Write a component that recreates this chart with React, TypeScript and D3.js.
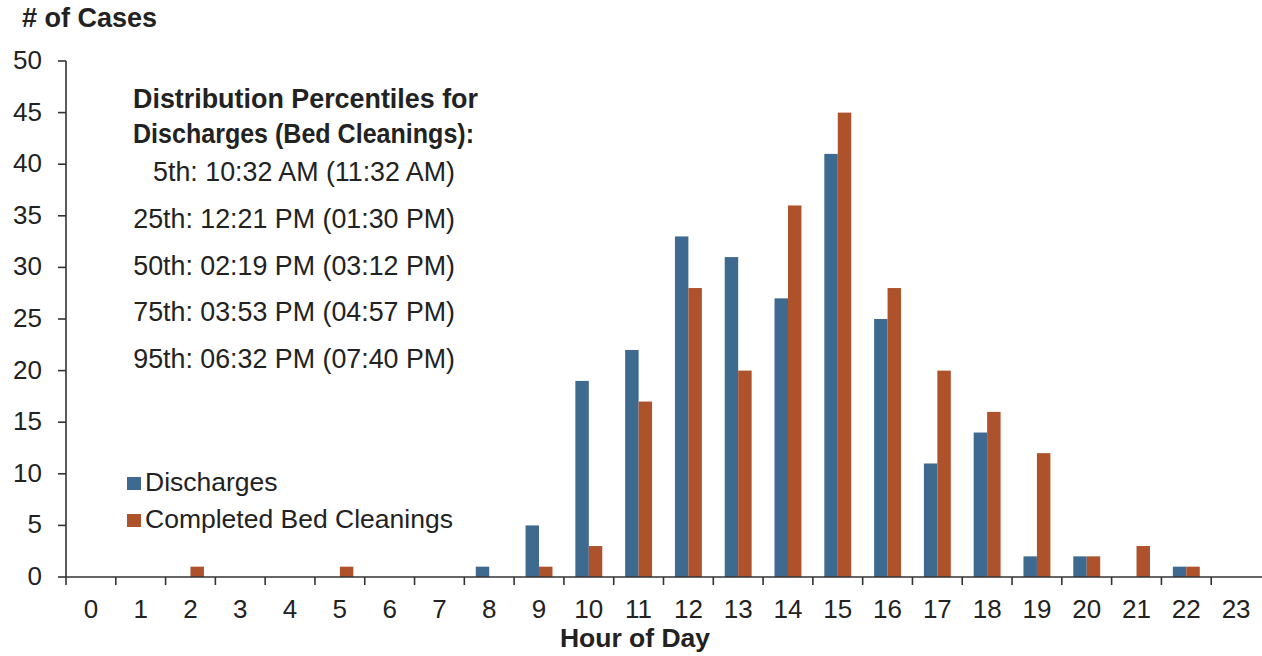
import React from "react";
import * as d3 from "d3";

const hours = ["0","1","2","3","4","5","6","7","8","9","10","11","12","13","14","15","16","17","18","19","20","21","22","23"];
const discharges = [0,0,0,0,0,0,0,0,1,5,19,22,33,31,27,41,25,11,14,2,2,0,1,0];
const cleanings = [0,0,1,0,0,1,0,0,0,1,3,17,28,20,36,45,28,20,16,12,2,3,1,0];
const yTicks = [0,5,10,15,20,25,30,35,40,45,50];
const seriesNames = ["Discharges", "Completed Bed Cleanings"];
const seriesColors = ["#3E6A8F", "#AE522C"];
const percentileTitle = ["Distribution Percentiles for", "Discharges (Bed Cleanings):"];
const percentileLines = [
  "5th: 10:32 AM (11:32 AM)",
  "25th: 12:21 PM (01:30 PM)",
  "50th: 02:19 PM (03:12 PM)",
  "75th: 03:53 PM (04:57 PM)",
  "95th: 06:32 PM (07:40 PM)",
];

export default function App() {
  const W = 1262, H = 656;
  const x0 = 66, x1 = 1261, yBase = 577, yTop = 61;
  const x = d3.scaleBand<string>().domain(hours).range([x0, x1]).padding(0);
  const inner = d3.scaleBand<string>().domain(["d", "c"]).range([0, x.bandwidth()]).paddingInner(0).paddingOuter(0.85);
  const y = d3.scaleLinear().domain([0, 50]).range([yBase, yTop]);
  const font = "'Liberation Sans', Arial, sans-serif";
  const txt = "#222";
  const axisColor = "#333";
  const series = [discharges, cleanings];
  const keys = ["d", "c"];
  const fs = 26;
  const titleLens = [345, 341];

  return (
    <svg width={W} height={H} style={{ position: "absolute", left: 0, top: 0, background: "#fff" }} fontFamily={font}>
      <rect x={0} y={0} width={W} height={H} fill="#fff" />
      <text x={22} y={27} fontSize={27} fontWeight="bold" fill={txt}>
        # of Cases
      </text>
      {/* bars */}
      {series.map((vals, si) =>
        vals.map((v, i) =>
          v > 0 ? (
            <rect
              key={`${si}-${i}`}
              x={(x(hours[i]) as number) + (inner(keys[si]) as number)}
              y={y(v)}
              width={inner.bandwidth()}
              height={yBase - y(v)}
              fill={seriesColors[si]}
            />
          ) : null
        )
      )}
      {/* y axis */}
      <line x1={x0} x2={x0} y1={yTop} y2={yBase} stroke={axisColor} strokeWidth={1.6} />
      {yTicks.map((t) => (
        <g key={t}>
          <line x1={x0 - 8} x2={x0} y1={y(t)} y2={y(t)} stroke={axisColor} strokeWidth={1.6} />
          <text x={42} y={y(t) + 8} fontSize={fs} textAnchor="end" fill={txt}>
            {t}
          </text>
        </g>
      ))}
      {/* x axis */}
      <line x1={x0} x2={x1 + 1} y1={yBase} y2={yBase} stroke={axisColor} strokeWidth={1.6} />
      {hours.map((h, i) => (
        <line key={`t${i}`} x1={x(h) as number} x2={x(h) as number} y1={yBase} y2={yBase + 8} stroke={axisColor} strokeWidth={1.6} />
      ))}
      {hours.map((h) => (
        <text key={`l${h}`} x={(x(h) as number) + x.bandwidth() / 2} y={618} fontSize={fs} textAnchor="middle" fill={txt}>
          {h}
        </text>
      ))}
      <text x={635} y={647} fontSize={26.5} fontWeight="bold" textAnchor="middle" fill={txt}>
        Hour of Day
      </text>
      {/* annotation */}
      {percentileTitle.map((s, i) => (
        <text key={s} x={133} y={108 + i * 35} fontSize={27} fontWeight="bold" fill={txt} textLength={titleLens[i]} lengthAdjust="spacingAndGlyphs">
          {s}
        </text>
      ))}
      {percentileLines.map((s, i) => (
        <text key={s} x={455} y={181 + i * 46.8} fontSize={26.8} textAnchor="end" fill={txt}>
          {s}
        </text>
      ))}
      {/* legend */}
      {seriesNames.map((s, i) => (
        <g key={s}>
          <rect x={127} y={477 + i * 37} width={14} height={13} fill={seriesColors[i]} />
          <text x={145} y={491 + i * 37} fontSize={26.5} fill={txt}>
            {s}
          </text>
        </g>
      ))}
    </svg>
  );
}
